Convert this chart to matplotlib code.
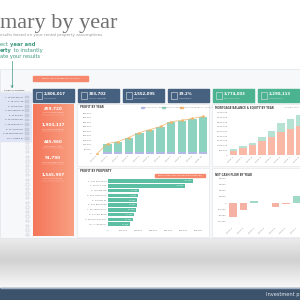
import numpy as np
import matplotlib.pyplot as plt
from matplotlib.patches import Rectangle
from matplotlib.colors import LinearSegmentedColormap

# ---- data ----
years = ["YEAR 0", "YEAR 1", "YEAR 2", "YEAR 3", "YEAR 4", "YEAR 5",
         "YEAR 6", "YEAR 7", "YEAR 8", "YEAR 9", "YEAR 10"]
cash_flow = [0, 22000, 23000, 23000, 24000, 25000, 25000, 26000, 26000, 27000, 27000]
equity_gain = [0, 88000, 109000, 153000, 206000, 238000, 271000, 325000, 336000, 357000, 379000]
cumulative_profit = [5000, 115000, 137000, 181000, 236000, 268000, 302000, 356000, 368000, 390000, 412000]

mortgage_years = ["YEAR 1", "YEAR 2", "YEAR 3", "YEAR 4", "YEAR 5", "YEAR 6", "YEAR 7", "YEAR 8"]
mortgage_balance = [430000, 750000, 1070000, 1500000, 1930000, 2460000, 2780000, 3100000]
equity_value = [210000, 210000, 210000, 430000, 640000, 960000, 1070000, 1200000]

property_names = ["1. 123 MAPLE ST", "2. 45 OAK AVE", "3. 78 PINE RD", "4. 910 CEDAR LN",
                  "5. 22 ELM ST", "6. 301 BIRCH DR", "7. 56 SPRUCE CT", "8. 14 ASH BLVD",
                  "9. 88 WILLOW WAY", "10. 7 ASPEN PL"]
property_profit = [567000, 513000, 207000, 200000, 193000, 190000, 187000, 173000, 167000, 147000]

cash_years = ["YEAR 1", "YEAR 2", "YEAR 3", "YEAR 4", "YEAR 5", "YEAR 6", "YEAR 7"]
net_cash_flow = [-46000, -23000, 7500, -1500, -13000, -4000, 22000]

kpi_values = ["2,806,017", "303,702", "2,552,095", "39.2%", "3,774,003", "2,290,113"]
kpi_labels = ["TOTAL PROFIT", "TOTAL CASH FLOW", "TOTAL EQUITY", "AVERAGE ROI",
              "PROPERTY VALUE", "LOAN BALANCE"]
side_values = ["459,720", "1,903,117", "445,960", "91,790", "1,545,907"]
side_labels = ["TOTAL DOWN PAYMENT", "TOTAL PURCHASE PRICE", "TOTAL RENT / YEAR",
               "TOTAL EXPENSES / YEAR", "TOTAL LOAN AMOUNT"]

NAVY = "#46607f"
TEAL = "#4cb391"
GREEN_TXT = "#3f9a80"
GREY = "#8a8a8a"


def rect(x0, y0, x1, y1):
    # pixel box (top-left origin) -> figure fraction
    return [x0 / 300, 1 - y1 / 300, (x1 - x0) / 300, (y1 - y0) / 300]


def style(ax):
    for s in ax.spines.values():
        s.set_visible(False)
    ax.tick_params(length=0, labelsize=1.6, colors="#7a7a7a", pad=1)
    ax.set_facecolor("white")


fig = plt.figure(figsize=(3, 3), dpi=100)
bg = fig.add_axes([0, 0, 1, 1])
bg.axis("off")
bg.set_xlim(0, 300)
bg.set_ylim(300, 0)
renderer = fig.canvas.get_renderer()


def run_text(x, y, parts, **kw):
    # write (text, weight) pieces one after another on a line
    for s, w in parts:
        t = bg.text(x, y, s, ha="left", va="baseline", fontweight=w, **kw)
        ext = t.get_window_extent(renderer)
        x += ext.width * 300 / fig.bbox.width


# bottom grey gradient and dark band
grad = np.concatenate([np.linspace(0.92, 0.82, 22), np.linspace(0.82, 0.97, 28)])[:, None]
bg.imshow(grad, cmap="gray", vmin=0, vmax=1, extent=(0, 300, 288, 238), aspect="auto", zorder=0)
bg.add_patch(Rectangle((0, 288), 300, 12, color="#3d526b"))
bg.add_patch(Rectangle((0, 287.5), 300, 0.8, color="#9fb0c4"))
bg.text(299, 294.5, "Investment p", color="#e6ebf2", fontsize=3.6, va="center", ha="right")

# dashboard area
bg.add_patch(Rectangle((0, 69), 300, 169, facecolor="#f7f8fa", edgecolor="#e2e4e8", lw=0.5))

# title and intro (left part of the page is cropped in the screenshot)
bg.text(-0.5, 28, "mary by year", ha="left", va="baseline", family="Liberation Serif",
        fontsize=16, color="#707070")
bg.text(0, 35.8, "esults based on your rental property assumptions", ha="left",
        va="baseline", fontsize=2.95, color="#9a9a9a")
run_text(0, 46, [("ect ", "normal"), ("year and", "bold")], fontsize=3.7, color=GREEN_TXT)
run_text(0, 52, [("erty", "bold"), (" to instantly", "normal")], fontsize=3.7, color=GREEN_TXT)
run_text(0, 58, [("ate your results", "normal")], fontsize=3.7, color=GREEN_TXT)
bg.plot([12, 12], [61, 87], color=GREEN_TXT, lw=0.5)
bg.plot([11, 12, 13], [85.5, 87.5, 85.5], color=GREEN_TXT, lw=0.5)

# property slicer
bg.text(4, 90, "Select properties", fontsize=1.7, color="#333333", va="center")
bg.plot([1, 31], [91.7, 91.7], color="#c8ccd4", lw=0.3)
bg.add_patch(Rectangle((0, 92.5), 31, 48.5, color="#dfe5f4"))
for i, name in enumerate(property_names):
    y = 97 + 4.6 * i
    bg.text(23, y, name, fontsize=1.5, color="#44506a", va="center", ha="right")
    bg.add_patch(Rectangle((25, y - 1.4), 4, 2.8, facecolor="#c9cfdc", edgecolor="#b3b9c6", lw=0.2))
for i in range(21):
    y = 143 + 4.6 * i
    bg.add_patch(Rectangle((25.5, y - 1.2), 3, 2.4, facecolor="none", edgecolor="#b9bcc3", lw=0.3))

# orange banner
bg.add_patch(Rectangle((33, 76), 55, 4.5, color="#f6896d"))
bg.text(60.5, 78.3, "SELECT YEAR & PROPERTIES TO UPDATE", fontsize=1.4, color="white",
        ha="center", va="center")

# KPI boxes
for i, (val, lab) in enumerate(zip(kpi_values, kpi_labels)):
    x0 = 33 + 45 * i
    col = NAVY if i < 4 else TEAL
    bg.add_patch(Rectangle((x0, 89), 40.5, 12.5, color=col))
    bg.add_patch(Rectangle((x0 + 2.5, 92), 6, 6.5, facecolor="none", edgecolor="#dfe6ef", lw=0.4))
    bg.text(x0 + 11, 94.3, val, fontsize=2.8, color="white", va="center", fontweight="bold")
    bg.text(x0 + 11, 98.4, lab, fontsize=1.3, color="#dfe6ef", va="center")

# orange side panel with gradient
og = LinearSegmentedColormap.from_list("og", ["#f4765a", "#f9a083"])
bg.imshow(np.linspace(0, 1, 50)[None, :], cmap=og, extent=(33, 73.5, 236, 104), aspect="auto",
          zorder=2)
for i, (val, lab) in enumerate(zip(side_values, side_labels)):
    y = 108.5 + 16.5 * i
    bg.text(53, y, val, fontsize=3.0, color="white", ha="center", va="center", fontweight="bold")
    bg.text(53, y + 4.2, lab, fontsize=1.3, color="#ffe3da", ha="center", va="center")
    bg.plot([42, 64], [y + 6.3, y + 6.3], color="#ffc6b5", lw=0.2, zorder=3)

# chart panels
for x0, y0, x1, y1 in [(77, 103.5, 208.5, 166), (212, 103.5, 301, 166),
                       (77, 167.5, 208.5, 237), (212, 167.5, 301, 237)]:
    bg.add_patch(Rectangle((x0, y0), x1 - x0, y1 - y0, facecolor="white", edgecolor="#e0e2e6", lw=0.4))

bg.text(80, 107.5, "PROFIT BY YEAR", fontsize=1.9, color="#444444", va="center", fontweight="bold")
bg.text(215, 107.5, "MORTGAGE BALANCE & EQUITY BY YEAR", fontsize=1.9, color="#444444",
        va="center", fontweight="bold")
bg.text(80, 171, "PROFIT BY PROPERTY", fontsize=1.9, color="#444444", va="center", fontweight="bold")
bg.text(215, 175, "NET CASH FLOW BY YEAR", fontsize=1.9, color="#444444", va="center", fontweight="bold")
bg.text(284, 107.5, "LOAN BALANCE", fontsize=1.4, color=GREY, va="center")

# legend of chart 1
for x, c, lab in [(141, "#b3b9e6", "CASH FLOW, ANNUAL"), (162, "#8ed3bf", "EQUITY, ANNUAL"),
                  (180, "#f3b46b", "CUMULATIVE PROFIT, ANNUAL")]:
    bg.add_patch(Rectangle((x, 106.8), 3, 1.4, color=c))
    bg.text(x + 4, 107.5, lab, fontsize=1.4, color=GREY, va="center")

# banner in chart 3
bg.add_patch(Rectangle((155, 173.5), 50, 3.8, color="#f6896d"))
bg.text(180, 175.4, "SELECT A PROPERTY TO FILTER THE DASHBOARD", fontsize=1.3, color="white",
        ha="center", va="center")

bg.set_xlim(0, 300)
bg.set_ylim(300, 0)

# ---- chart 1: profit by year ----
ax1 = fig.add_axes(rect(93, 111, 207, 154))
style(ax1)
x = np.arange(len(years))
ax1.bar(x, cash_flow, width=0.8, color="#b3b9e6")
ax1.bar(x, equity_gain, width=0.8, bottom=cash_flow, color="#8ed3bf")
ax1.plot(x, cumulative_profit, color="#f3b46b", lw=0.5, marker="o", ms=0.9)
ax1.set_xlim(-0.38, 10.38)
ax1.set_ylim(0, 472000)
ax1.set_yticks(np.arange(0, 450001, 50000))
ax1.set_yticklabels([f"{v:,}" for v in range(0, 450001, 50000)])
ax1.set_xticks(x)
ax1.set_xticklabels(years, rotation=45, ha="right")

# ---- chart 2: mortgage balance & equity ----
ax2 = fig.add_axes(rect(229, 111, 300, 155))
style(ax2)
x2 = np.arange(len(mortgage_years))
ax2.bar(x2, mortgage_balance, width=0.78, color="#f9b9a6")
ax2.bar(x2, equity_value, width=0.78, bottom=mortgage_balance, color="#b5e2d3")
ax2.set_xlim(-0.49, 6.4)
ax2.set_ylim(0, 4710000)
ax2.set_yticks(np.arange(0, 4500001, 500000))
ax2.set_yticklabels([f"{v:,}" for v in range(0, 4500001, 500000)])
ax2.set_xticks(x2)
ax2.set_xticklabels(mortgage_years, rotation=45, ha="right")

# ---- chart 3: profit by property ----
ax3 = fig.add_axes(rect(108, 178.6, 206, 226.6))
style(ax3)
y3 = np.arange(len(property_names))
ax3.barh(y3, property_profit, height=0.75, color="#5cbfa3")
for yy, v in zip(y3, property_profit):
    ax3.text(v - 4000, yy, f"{v:,}", fontsize=1.3, color="white", ha="right", va="center")
ax3.set_xlim(0, 653000)
ax3.set_ylim(9.5, -0.5)
ax3.set_yticks(y3)
ax3.set_yticklabels(property_names)
ax3.set_xticks(np.arange(0, 600001, 100000))
ax3.set_xticklabels([f"{v:,}" for v in range(0, 600001, 100000)])
ax3.tick_params(axis="x", pad=2.5)

# ---- chart 4: net cash flow ----
ax4 = fig.add_axes(rect(228, 177, 300, 226))
style(ax4)
x4 = np.arange(len(cash_years))
colors4 = ["#9fd9c7" if v > 0 else "#f5b1a3" for v in net_cash_flow]
ax4.bar(x4, net_cash_flow, width=0.72, color=colors4)
ax4.set_xlim(-0.47, 6.32)
ax4.set_ylim(-75000, 85000)
ax4.set_yticks(np.arange(-60000, 80001, 20000))
ax4.set_yticklabels([f"{v:,}" for v in range(-60000, 80001, 20000)])
ax4.set_xticks(x4)
ax4.set_xticklabels(cash_years, rotation=45, ha="right")

fig.savefig("out.png", dpi=100)
